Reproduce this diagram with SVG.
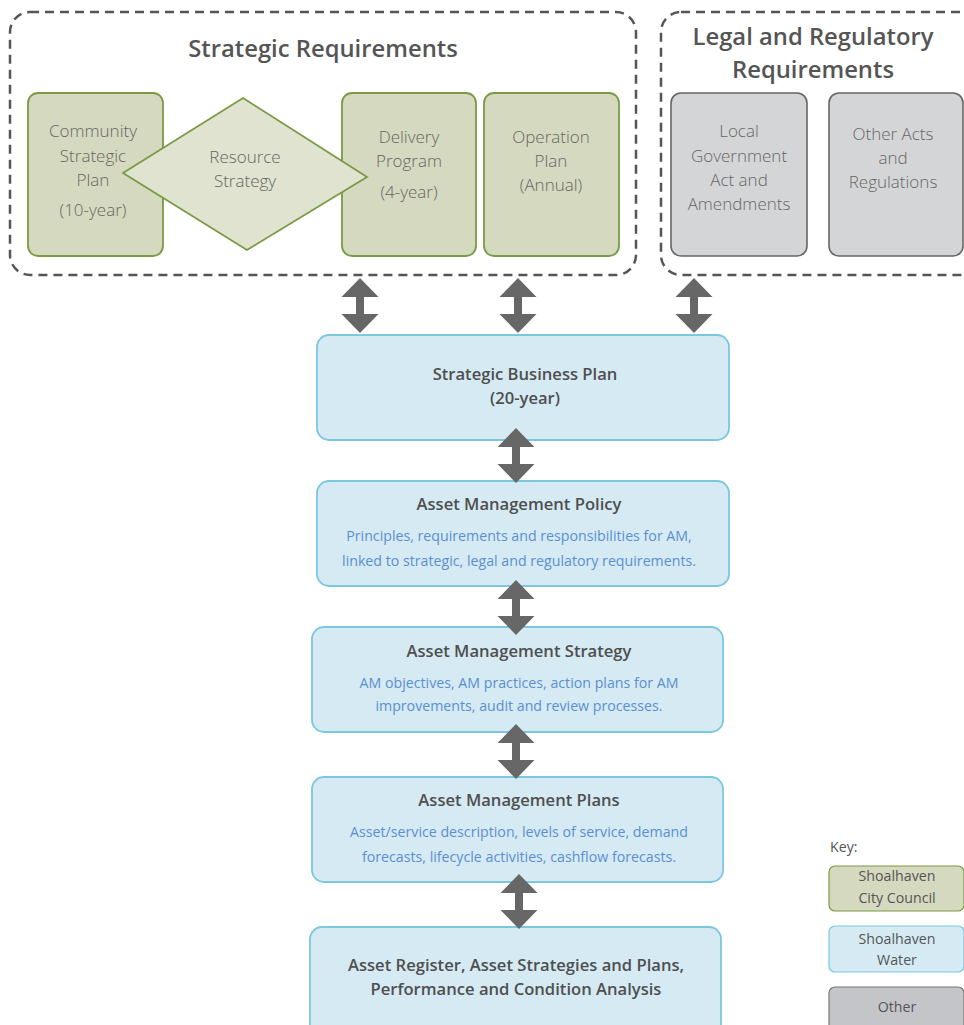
<svg xmlns="http://www.w3.org/2000/svg" width="964" height="1025" viewBox="0 0 964 1025">
  <defs>
    <style>
      .group { fill: none; stroke: #555; stroke-width: 2.5; stroke-dasharray: 9 6; }
      .council { fill: #d5d9bf; stroke: #7b9a45; stroke-width: 1.8; }
      .diamond { fill: #dfe3cf; stroke: #7b9a45; stroke-width: 1.8; }
      .water { fill: #d5eaf3; stroke: #7cc7df; stroke-width: 1.8; }
      .other { fill: #d4d5d7; stroke: #666; stroke-width: 1.6; }
      .otherkey { fill: #c4c5c8; stroke: #777; stroke-width: 1.2; }
      .title { font-family: "Open Sans", "Liberation Sans", sans-serif; font-weight: 600; font-size: 23.8px; fill: #555; text-anchor: middle; }
      .light { font-family: "Open Sans", "Liberation Sans", sans-serif; font-weight: 300; font-size: 17px; fill: #666; text-anchor: middle; }
      .head { font-family: "Open Sans", "Liberation Sans", sans-serif; font-weight: 600; font-size: 16.6px; fill: #4f4f4f; text-anchor: middle; }
      .desc { font-family: "Open Sans", "Liberation Sans", sans-serif; font-weight: 400; font-size: 14.2px; fill: #5b8fd2; text-anchor: middle; }
      .key { font-family: "Open Sans", "Liberation Sans", sans-serif; font-weight: 400; font-size: 14.2px; fill: #555; text-anchor: middle; }
      .arrow { fill: #676767; }
    </style>
    <!-- double-headed block arrow, tips at y=0 and y=55 -->
    <path id="dblArrow" d="M0 0 L18.5 19 L4 19 L4 36 L18.5 36 L0 55 L-18.5 36 L-4 36 L-4 19 L-18.5 19 Z"/>
  </defs>

  <!-- group frames -->
  <g id="strategic-requirements">
    <rect class="group" x="10" y="12" width="626" height="263" rx="20"/>
    <text class="title" x="323" y="57">Strategic Requirements</text>
  </g>
  <g id="legal-requirements">
    <rect class="group" x="661" y="12" width="330" height="263" rx="20"/>
    <text class="title" x="813" y="45">Legal and Regulatory</text>
    <text class="title" x="813" y="78">Requirements</text>
  </g>

  <g id="community-strategic-plan">
    <rect class="council" x="28" y="93" width="135" height="163" rx="10"/>
    <text class="light" x="93" y="137">Community</text>
    <text class="light" x="93" y="162">Strategic</text>
    <text class="light" x="93" y="186">Plan</text>
    <text class="light" x="93" y="216">(10-year)</text>
  </g>

  <g id="delivery-program">
    <rect class="council" x="342" y="93" width="134" height="163" rx="10"/>
    <text class="light" x="409" y="143">Delivery</text>
    <text class="light" x="409" y="167">Program</text>
    <text class="light" x="409" y="198">(4-year)</text>
  </g>

  <g id="resource-strategy">
    <polygon class="diamond" points="123,173 243,98 367,177 247,250"/>
    <text class="light" x="245" y="163">Resource</text>
    <text class="light" x="245" y="187">Strategy</text>
  </g>

  <g id="operation-plan">
    <rect class="council" x="484" y="93" width="135" height="163" rx="10"/>
    <text class="light" x="551" y="143">Operation</text>
    <text class="light" x="551" y="167">Plan</text>
    <text class="light" x="551" y="191">(Annual)</text>
  </g>

  <g id="local-government-act">
    <rect class="other" x="671" y="93" width="136" height="163" rx="10"/>
    <text class="light" x="739" y="137">Local</text>
    <text class="light" x="739" y="162">Government</text>
    <text class="light" x="739" y="186">Act and</text>
    <text class="light" x="739" y="210">Amendments</text>
  </g>

  <g id="other-acts">
    <rect class="other" x="829" y="93" width="134" height="163" rx="10"/>
    <text class="light" x="893" y="140">Other Acts</text>
    <text class="light" x="893" y="164">and</text>
    <text class="light" x="893" y="188">Regulations</text>
  </g>

  <!-- main chain -->
  <g id="strategic-business-plan">
    <rect class="water" x="317" y="335" width="412" height="105" rx="12"/>
    <text class="head" x="525" y="380">Strategic Business Plan</text>
    <text class="head" x="525" y="404">(20-year)</text>
  </g>

  <g id="am-policy">
    <rect class="water" x="317" y="481" width="412" height="105" rx="12"/>
    <text class="head" x="519" y="510">Asset Management Policy</text>
    <text class="desc" x="519" y="541">Principles, requirements and responsibilities for AM,</text>
    <text class="desc" x="519" y="566">linked to strategic, legal and regulatory requirements.</text>
  </g>

  <g id="am-strategy">
    <rect class="water" x="312" y="627" width="411" height="105" rx="12"/>
    <text class="head" x="519" y="657">Asset Management Strategy</text>
    <text class="desc" x="519" y="688">AM objectives, AM practices, action plans for AM</text>
    <text class="desc" x="519" y="711">improvements, audit and review processes.</text>
  </g>

  <g id="am-plans">
    <rect class="water" x="312" y="777" width="411" height="105" rx="12"/>
    <text class="head" x="519" y="806">Asset Management Plans</text>
    <text class="desc" x="519" y="837">Asset/service description, levels of service, demand</text>
    <text class="desc" x="519" y="862">forecasts, lifecycle activities, cashflow forecasts.</text>
  </g>

  <g id="asset-register">
    <rect class="water" x="310" y="927" width="411" height="120" rx="12"/>
    <text class="head" x="516" y="971">Asset Register, Asset Strategies and Plans,</text>
    <text class="head" x="516" y="995">Performance and Condition Analysis</text>
  </g>

  <!-- connectors -->
  <g id="connectors" class="arrow">
    <use href="#dblArrow" x="360" y="278"/>
    <use href="#dblArrow" x="518" y="278"/>
    <use href="#dblArrow" x="694" y="278"/>
    <use href="#dblArrow" x="516" y="428"/>
    <use href="#dblArrow" x="516" y="580"/>
    <use href="#dblArrow" x="516" y="724"/>
    <use href="#dblArrow" x="519" y="874"/>
  </g>

  <!-- legend -->
  <g id="key">
    <text class="key" x="830" y="852" style="text-anchor:start">Key:</text>
    <rect class="council" x="829" y="866" width="135" height="45" rx="6" style="stroke-width:1.2"/>
    <text class="key" x="897" y="881">Shoalhaven</text>
    <text class="key" x="897" y="903">City Council</text>
    <rect class="water" x="829" y="926" width="135" height="46" rx="6" style="stroke-width:1.2"/>
    <text class="key" x="897" y="944">Shoalhaven</text>
    <text class="key" x="897" y="965">Water</text>
    <rect class="otherkey" x="829" y="987" width="135" height="50" rx="6"/>
    <text class="key" x="897" y="1012">Other</text>
  </g>
</svg>
